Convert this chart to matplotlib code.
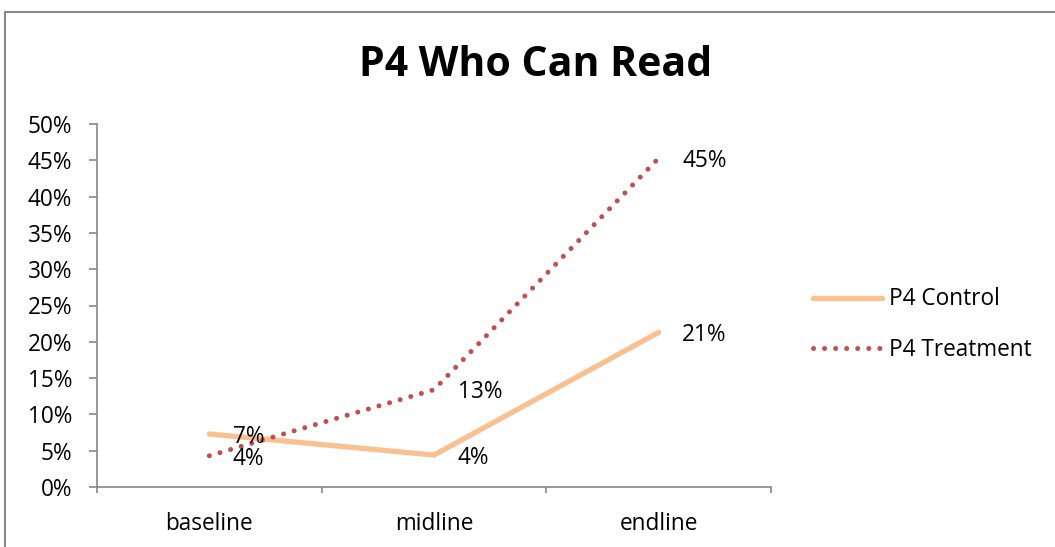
import matplotlib
matplotlib.use("Agg")
import matplotlib.pyplot as plt
from matplotlib.patches import Rectangle
from matplotlib.ticker import FixedLocator, PercentFormatter, NullFormatter

categories = ["baseline", "midline", "endline"]
control = [0.073, 0.044, 0.213]
treatment = [0.043, 0.134, 0.453]
control_labels = ["7%", "4%", "21%"]
treatment_labels = ["4%", "13%", "45%"]
series_names = ["P4 Control", "P4 Treatment"]
title = "P4 Who Can Read"

plt.rcParams['font.family'] = ['Open Sans', 'DejaVu Sans']
FS = 16.3
W, H = 1055, 547
fig = plt.figure(figsize=(W / 100, H / 100), dpi=100)
ax = fig.add_axes([97 / W, 1 - 487 / H, (771 - 97) / W, (487 - 124) / H])

x = list(range(len(categories)))
l1, = ax.plot(x, control, color='#FAC090', lw=3.8, solid_capstyle='round', solid_joinstyle='miter')
l2, = ax.plot(x, treatment, color='#C0504D', lw=3.6, linestyle=(0, (0.01, 2.2)), dash_capstyle='round')

for xi, v, t in zip(x, control, control_labels):
    ax.annotate(t, (xi, v), xytext=(17, -2), textcoords='offset points', va='center', ha='left', fontsize=FS)
for xi, v, t in zip(x, treatment, treatment_labels):
    ax.annotate(t, (xi, v), xytext=(17, -2), textcoords='offset points', va='center', ha='left', fontsize=FS)

ax.set_xlim(-0.5, len(categories) - 0.5)
ax.set_ylim(0, 0.5)
ax.xaxis.set_major_locator(FixedLocator([i - 0.5 for i in range(len(categories) + 1)]))
ax.xaxis.set_major_formatter(NullFormatter())
ax.xaxis.set_minor_locator(FixedLocator(x))
ax.set_xticklabels(categories, minor=True)
ax.tick_params(axis='x', which='minor', length=0, pad=18, labelsize=FS)
ax.tick_params(axis='x', which='major', length=4.5, width=1.2, color='#868686', direction='out')
ax.set_yticks([i * 0.05 for i in range(11)])
ax.yaxis.set_major_formatter(PercentFormatter(1.0, decimals=0))
ax.tick_params(axis='y', length=5.8, width=1.2, color='#868686', labelsize=FS, pad=12)

for s in ['top', 'right']:
    ax.spines[s].set_visible(False)
for s in ['left', 'bottom']:
    ax.spines[s].set_color('#868686')
    ax.spines[s].set_linewidth(1.2)

fig.legend([l1, l2], series_names, loc='center left', bbox_to_anchor=(813 / W, 1 - 324.5 / H),
           frameon=False, fontsize=FS, handlelength=3.05, handletextpad=0.3,
           labelspacing=1.15, borderpad=0, borderaxespad=0)

fig.text(536 / W, 1 - 66 / H, title, ha='center', va='center', fontsize=29.5, fontweight='bold')

fig.patches.append(Rectangle((4.5 / W, -0.1), 1.2, 1 - 11.5 / H + 0.1, transform=fig.transFigure,
                             fill=False, edgecolor='#898989', linewidth=1.5))

fig.savefig("out.png", dpi=100)
